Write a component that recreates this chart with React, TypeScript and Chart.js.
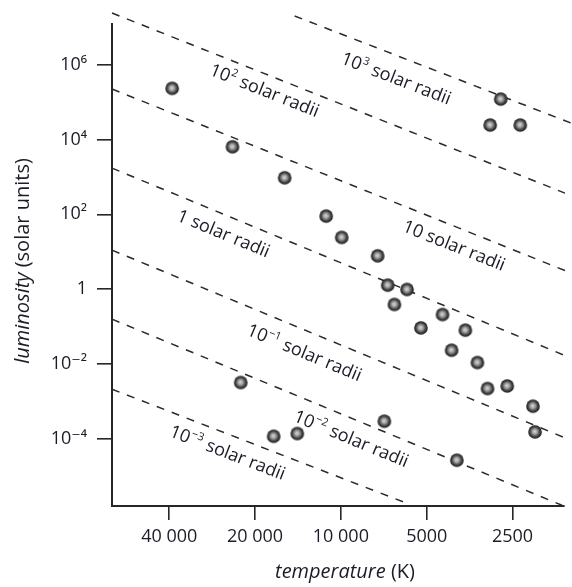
import React, { useEffect, useRef } from "react";
import { Chart, registerables } from "chart.js";

Chart.register(...registerables);

// ---- axis ticks ----
const xTickValues = [40000, 20000, 10000, 5000, 2500];
const xTickLabels = ["40 000", "20 000", "10 000", "5000", "2500"];
const yTickValues = [1e6, 1e4, 1e2, 1, 1e-2, 1e-4];
const yTickLabels = ["10⁶", "10⁴", "10²", "1", "10⁻²", "10⁻⁴"];

// ---- axis limits ----
const tempMin = 1650;
const tempMax = 63490;
const lumMin = 1.589e-6;
const lumMax = 1.233e7;

// ---- stars (temperature K, luminosity in solar units) ----
const starTemperatures = [
  39060, 24000, 15750, 11260, 9930, 7430, 6850, 5860, 6490, 4400, 5240, 3660, 4090,
  3320, 3060, 2610, 2120, 2085, 2750, 2995, 2350, 22450, 17210, 14220, 7040, 3920,
];
const starLuminosities = [
  2.35e5, 6.43e3, 951, 89.9, 24.2, 7.78, 1.28, 0.98, 0.39, 0.21, 0.0921, 0.08, 0.0233,
  0.01093, 0.0022, 0.00258, 7.4e-4, 1.52e-4, 1.21e5, 2.45e4, 2.45e4, 0.00319, 1.165e-4,
  1.38e-4, 2.94e-4, 2.66e-5,
];

// ---- constant-radius lines (solar radii = 10^exponent) ----
const radiusExponents = [3, 2, 1, 0, -1, -2, -3];
const radiusLineStartT = [14530, 63490, 63490, 63490, 63490, 63490, 63490];
const radiusLineStartL = [2.02e7, 2.43e7, 2.25e5, 1729, 11.06, 0.1575, 2.11e-3];
const radiusLineEndT = [1560, 1637, 1585, 1585, 1624, 1677, 5754];
const radiusLineEndL = [2.77e4, 370.7, 2.85, 0.01515, 1.03e-4, 1.66e-6, 1.77e-6];
const radiusLabelT = [6390, 18515, 4004, 25760, 13406, 9182, 24930];
const radiusLabelL = [4.43e5, 2.11e5, 15.0, 31.5, 0.0206, 1.03e-4, 4.35e-5];

const TEXT = "#1c1c28";
const AXIS = "#262626";
const FONT = "'Open Sans', 'DejaVu Sans', sans-serif";

function makeStarImage(): HTMLCanvasElement {
  const c = document.createElement("canvas");
  c.width = 16;
  c.height = 16;
  const g = c.getContext("2d")!;
  const grad = g.createRadialGradient(7.6, 7.6, 0.3, 8, 8, 7);
  grad.addColorStop(0, "#d6d6d6");
  grad.addColorStop(0.35, "#9a9a9a");
  grad.addColorStop(0.65, "#4a4a4a");
  grad.addColorStop(1, "#151515");
  g.beginPath();
  g.arc(8, 8, 6.8, 0, Math.PI * 2);
  g.fillStyle = grad;
  g.fill();
  return c;
}

function labelParts(exp: number): [string, string] {
  if (exp === 0) return ["1", ""];
  if (exp === 1) return ["10", ""];
  return ["10", exp < 0 ? "\u2212" + Math.abs(exp) : String(exp)];
}

const annotationPlugin = {
  id: "hrAnnotations",
  afterDatasetsDraw(chart: any) {
    const ctx: CanvasRenderingContext2D = chart.ctx;
    const xs = chart.scales.x;
    const ys = chart.scales.y;
    const size = 18;
    ctx.save();
    ctx.fillStyle = TEXT;
    ctx.textBaseline = "alphabetic";
    ctx.textAlign = "left";
    radiusExponents.forEach((exp, i) => {
      const x1 = xs.getPixelForValue(radiusLineStartT[i]);
      const y1 = ys.getPixelForValue(radiusLineStartL[i]);
      const x2 = xs.getPixelForValue(radiusLineEndT[i]);
      const y2 = ys.getPixelForValue(radiusLineEndL[i]);
      const ang = Math.atan2(y2 - y1, x2 - x1);
      const cx = xs.getPixelForValue(radiusLabelT[i]);
      const cy = ys.getPixelForValue(radiusLabelL[i]);
      const [base, sup] = labelParts(exp);
      const rest = " solar radii";
      ctx.font = `${size}px ${FONT}`;
      const w1 = ctx.measureText(base).width;
      const w3 = ctx.measureText(rest).width;
      ctx.font = `${Math.round(size * 0.62)}px ${FONT}`;
      const w2 = sup ? ctx.measureText(sup).width + 1 : 0;
      const total = w1 + w2 + w3;
      ctx.save();
      ctx.translate(cx, cy);
      ctx.rotate(ang);
      let px = -total / 2;
      const base_y = size * 0.35;
      ctx.font = `${size}px ${FONT}`;
      ctx.fillText(base, px, base_y);
      px += w1;
      if (sup) {
        ctx.font = `${Math.round(size * 0.62)}px ${FONT}`;
        ctx.fillText(sup, px + 0.5, base_y - size * 0.42);
        px += w2;
      }
      ctx.font = `${size}px ${FONT}`;
      ctx.fillText(rest, px, base_y);
      ctx.restore();
    });

    // axis titles with mixed styles
    const tsize = 20;
    const drawTitle = (italic: string, normal: string, cx: number, cy: number, rot: number) => {
      ctx.save();
      ctx.translate(cx, cy);
      ctx.rotate(rot);
      ctx.font = `italic ${tsize}px ${FONT}`;
      const wi = ctx.measureText(italic).width;
      ctx.font = `${tsize}px ${FONT}`;
      const wn = ctx.measureText(normal).width;
      const start = -(wi + wn) / 2;
      ctx.textBaseline = "middle";
      ctx.font = `italic ${tsize}px ${FONT}`;
      ctx.fillText(italic, start, 0);
      ctx.font = `${tsize}px ${FONT}`;
      ctx.fillText(normal, start + wi, 0);
      ctx.restore();
    };
    drawTitle("temperature", " (K)", 345, 572, 0);
    drawTitle("luminosity", " (solar units)", 23, 261, -Math.PI / 2);
    ctx.restore();
  },
};

export default function App() {
  const canvasRef = useRef<HTMLCanvasElement | null>(null);

  useEffect(() => {
    if (!canvasRef.current) return;
    const star = makeStarImage();
    const lineDatasets = radiusExponents.map((exp, i) => ({
      label: `${exp} radius`,
      data: [
        { x: radiusLineStartT[i], y: radiusLineStartL[i] },
        { x: radiusLineEndT[i], y: radiusLineEndL[i] },
      ],
      showLine: true,
      borderColor: "#2a2a2a",
      borderWidth: 1.5,
      borderDash: [8, 8],
      pointRadius: 0,
      clip: false as any,
      order: 2,
    }));
    const chart = new Chart(canvasRef.current, {
      type: "scatter",
      data: {
        datasets: [
          ...lineDatasets,
          {
            label: "stars",
            data: starTemperatures.map((t, i) => ({ x: t, y: starLuminosities[i] })),
            pointStyle: star as any,
            pointRadius: 7,
            order: 1,
            clip: false as any,
          },
        ],
      },
      options: {
        responsive: false,
        animation: false,
        devicePixelRatio: 1,
        layout: { padding: { top: 24, right: 7, left: 0, bottom: 0 } },
        plugins: { legend: { display: false }, tooltip: { enabled: false } },
        scales: {
          x: {
            type: "logarithmic",
            position: "bottom",
            reverse: true,
            min: tempMin,
            max: tempMax,
            afterBuildTicks: (s: any) => {
              s.ticks = xTickValues.map((v) => ({ value: v }));
            },
            afterFit: (s: any) => {
              s.height = 81;
            },
            ticks: {
              autoSkip: false,
              maxRotation: 0,
              padding: 6,
              color: TEXT,
              font: { family: FONT, size: 18 },
              callback: (_v: any, idx: number) => xTickLabels[idx],
            },
            grid: {
              display: true,
              drawOnChartArea: false,
              drawTicks: true,
              tickLength: 14,
              color: AXIS,
              lineWidth: 1.6,
            },
            border: { display: true, color: AXIS, width: 2 },
          },
          y: {
            type: "logarithmic",
            position: "left",
            min: lumMin,
            max: lumMax,
            afterBuildTicks: (s: any) => {
              s.ticks = yTickValues.map((v) => ({ value: v }));
            },
            afterFit: (s: any) => {
              s.width = 112;
            },
            ticks: {
              autoSkip: false,
              padding: 10,
              color: TEXT,
              font: { family: FONT, size: 18 },
              callback: (_v: any, idx: number) => yTickLabels[idx],
            },
            grid: {
              display: true,
              drawOnChartArea: false,
              drawTicks: true,
              tickLength: 15,
              color: AXIS,
              lineWidth: 1.6,
            },
            border: { display: true, color: AXIS, width: 2 },
          },
        },
      } as any,
      plugins: [annotationPlugin],
    });
    return () => chart.destroy();
  }, []);

  return (
    <div style={{ position: "absolute", left: 0, top: 0, width: 572, height: 587, background: "#fff" }}>
      <canvas ref={canvasRef} width={572} height={587} style={{ display: "block" }} />
    </div>
  );
}
